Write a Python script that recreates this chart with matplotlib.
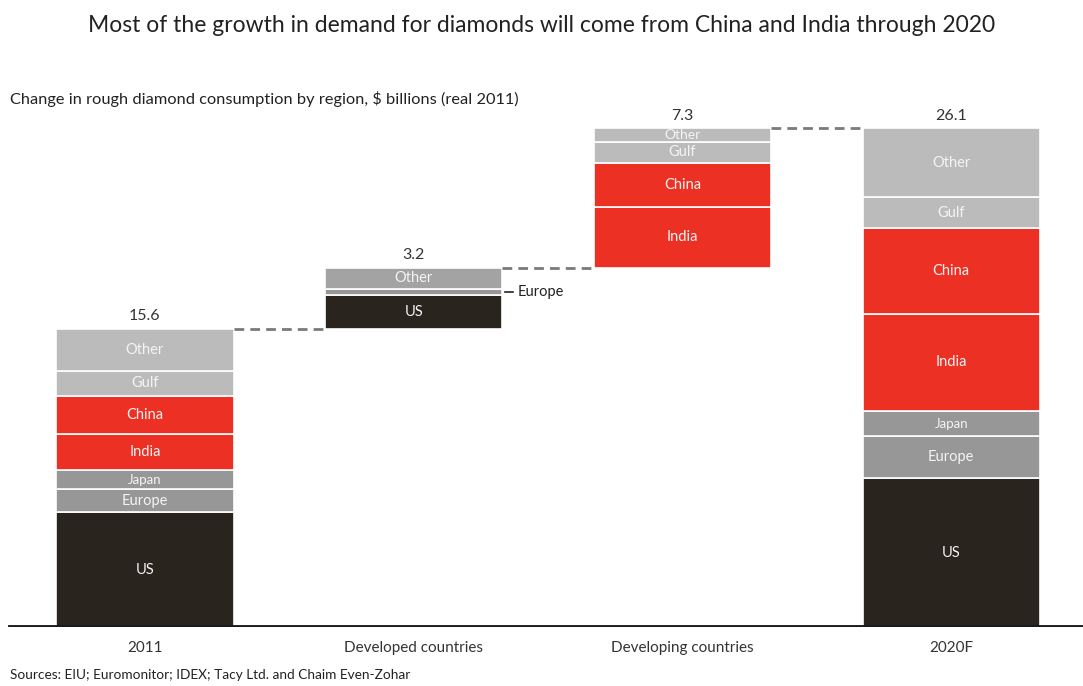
import numpy as np
import matplotlib.pyplot as plt

plt.rcParams['font.family'] = ['Lato', 'DejaVu Sans']

columns = ["2011", "Developed countries", "Developing countries", "2020F"]
totals = [15.6, 3.2, 7.3, 26.1]

# segments per column, bottom to top: (region, value)
seg_2011 = [("US", 6.0), ("Europe", 1.2), ("Japan", 1.0), ("India", 1.9),
            ("China", 2.0), ("Gulf", 1.3), ("Other", 2.2)]
seg_developed = [("US", 1.8), ("Europe", 0.3), ("Other", 1.1)]
seg_developing = [("India", 3.2), ("China", 2.3), ("Gulf", 1.1), ("Other", 0.7)]
seg_2020 = [("US", 7.8), ("Europe", 2.2), ("Japan", 1.3), ("India", 5.1),
            ("China", 4.5), ("Gulf", 1.6), ("Other", 3.6)]
segments = [seg_2011, seg_developed, seg_developing, seg_2020]

colors = {"US": "#2a241f", "Europe": "#979797", "Japan": "#979797",
          "India": "#ec3024", "China": "#ec3024", "Gulf": "#bbbbbb",
          "Other": "#bbbbbb"}
dev_other = "#a3a3a3"

fig = plt.figure(figsize=(10.83, 6.86), dpi=100)
ax = fig.add_axes([0, 59 / 686, 1, 537 / 686])
ax.set_xlim(-0.539, 3.49)
ax.set_ylim(0, 537 / 19.1)
ax.axis("off")

width = 0.66
# waterfall: middle columns float on the running total
starts = [0, totals[0], totals[0] + totals[1], 0]

for i, segs in enumerate(segments):
    bottom = starts[i]
    for name, val in segs:
        c = colors[name]
        if i == 1 and name == "Other":
            c = dev_other
        ax.bar(i, val, width=width, bottom=bottom, color=c,
               edgecolor="white", linewidth=1.2)
        if not (i == 1 and name == "Europe"):
            fs = 10 if val < 0.9 else 10.5
            if name == "Japan":
                fs = 9.5
            ax.text(i, bottom + val / 2, name, ha="center", va="center",
                    color="#f4f4f4", fontsize=fs)
        bottom += val
    ax.text(i, starts[i] + totals[i] + 0.3, f"{totals[i]}", ha="center",
            va="bottom", fontsize=11.5, color="#333333")

# Europe call-out on the developed column
eu_mid = starts[1] + seg_developed[0][1] + seg_developed[1][1] / 2
ax.plot([1 + width / 2 + 0.01, 1 + width / 2 + 0.04], [eu_mid, eu_mid],
        color="#222222", lw=1.2)
ax.text(1 + width / 2 + 0.055, eu_mid, "Europe", ha="left", va="center",
        fontsize=10.5, color="#222222")

# dashed connectors between columns
levels = [totals[0], totals[0] + totals[1], totals[3]]
for i, lev in enumerate(levels):
    ax.plot([i + width / 2, i + 1 - width / 2], [lev, lev], color="#7a7a7a",
            lw=2, ls=(0, (3.5, 2.2)))

# baseline
ax.axhline(0, xmin=10 / 1083, xmax=1, color="#1a1a1a", lw=3.5)

for i, lab in enumerate(columns):
    ax.text(i, -0.75, lab, ha="center", va="top", fontsize=11,
            color="#333333")

fig.text(0.5, 1 - 25 / 686, "Most of the growth in demand for diamonds will come from China and India through 2020",
         ha="center", va="center", fontsize=16.5, color="#222222")
fig.text(10 / 1083, 1 - 99 / 686, "Change in rough diamond consumption by region, $ billions (real 2011)",
         ha="left", va="center", fontsize=11.8, color="#222222")
fig.text(10 / 1083, 1 - 675 / 686, "Sources: EIU; Euromonitor; IDEX; Tacy Ltd. and Chaim Even-Zohar",
         ha="left", va="center", fontsize=9.8, color="#222222")

fig.savefig("out.png", dpi=100)
